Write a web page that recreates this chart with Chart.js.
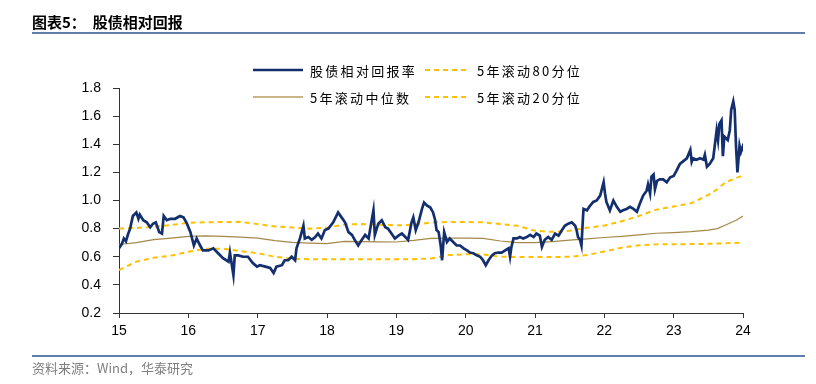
<!DOCTYPE html>
<html>
<head>
<meta charset="utf-8">
<script src="https://cdn.jsdelivr.net/npm/chart.js@4"></script>
<style>
body { margin: 0; width: 816px; height: 384px; background: #fff; position: relative; overflow: hidden; }
#chart { position: absolute; left: 0; top: 0; }
#title { position: absolute; left: 32px; top: 11px; font: bold 15px "Noto Sans CJK SC", sans-serif; color: #000; white-space: pre; }
.rule { position: absolute; left: 32px; width: 773px; height: 2px; background: #5f7fa8; }
#source { position: absolute; left: 32px; top: 358px; font: 13px "Noto Sans CJK SC", sans-serif; color: #7f7f7f; }
.lg { position: absolute; display: flex; align-items: center; height: 20px; font: 13px "Noto Sans CJK SC", sans-serif; letter-spacing: 2.3px; color: #000; }
.lg svg { margin-right: 7px; }
</style>
</head>
<body>
<canvas id="chart" width="816" height="384"></canvas>
<div id="title">图表5：  股债相对回报</div>
<div class="rule" style="top:32px"></div>
<div class="rule" style="top:355px"></div>
<div id="source">资料来源：Wind，华泰研究</div>
<div id="legend"></div>
<script>
// 股债相对回报率 (year = 15 + fraction)
const retDates = [
  15.00, 15.04, 15.07, 15.10, 15.13, 15.16, 15.20, 15.25, 15.28, 15.30, 15.35, 15.40, 15.45, 15.49, 15.53, 15.58, 15.62, 15.645, 15.69, 15.74, 15.81, 15.88, 15.93, 15.98,
  16.03, 16.08, 16.12, 16.17, 16.21, 16.29, 16.36, 16.43, 16.50, 16.58, 16.60, 16.65, 16.67, 16.72, 16.79, 16.86, 16.93, 16.99,
  17.03, 17.11, 17.18, 17.23, 17.27, 17.35, 17.39, 17.44, 17.49, 17.54, 17.56, 17.61, 17.66, 17.68, 17.73, 17.78, 17.83, 17.87, 17.92, 17.97,
  18.02, 18.09, 18.16, 18.21, 18.26, 18.31, 18.36, 18.40, 18.45, 18.50, 18.55, 18.60, 18.64, 18.67, 18.69, 18.74, 18.79, 18.84, 18.88, 18.93, 18.98,
  19.03, 19.08, 19.13, 19.17, 19.22, 19.245, 19.28, 19.32, 19.37, 19.40, 19.44, 19.49, 19.53, 19.56, 19.58, 19.61, 19.64, 19.66, 19.69, 19.73, 19.77, 19.82, 19.87, 19.92, 19.97,
  20.02, 20.06, 20.11, 20.16, 20.21, 20.25, 20.29, 20.33, 20.38, 20.42, 20.47, 20.52, 20.57, 20.62, 20.64, 20.66, 20.69, 20.74, 20.78, 20.83, 20.88, 20.93, 20.98,
  21.02, 21.07, 21.10, 21.14, 21.19, 21.24, 21.29, 21.34, 21.39, 21.43, 21.48, 21.53, 21.58, 21.60, 21.62, 21.65, 21.67, 21.69, 21.70, 21.75, 21.79, 21.84, 21.89, 21.94, 21.99,
  22.01, 22.03, 22.08, 22.13, 22.18, 22.23, 22.27, 22.32, 22.37, 22.42, 22.47, 22.51, 22.56, 22.61, 22.63, 22.66, 22.68, 22.71, 22.73, 22.76, 22.80, 22.85, 22.90, 22.95,
  23.00, 23.04, 23.09, 23.14, 23.19, 23.24, 23.26, 23.28, 23.33, 23.38, 23.43, 23.45, 23.48, 23.52, 23.57, 23.59, 23.62, 23.64, 23.66, 23.69, 23.71, 23.73, 23.78, 23.81, 23.83, 23.86, 23.88, 23.90, 23.92, 23.95, 23.97, 23.99, 24.00
];
const retValues = [
  0.66, 0.69, 0.73, 0.71, 0.76, 0.80, 0.89, 0.915, 0.87, 0.90, 0.86, 0.845, 0.81, 0.835, 0.845, 0.775, 0.765, 0.89, 0.86, 0.87, 0.87, 0.89, 0.88, 0.835,
  0.775, 0.68, 0.73, 0.68, 0.645, 0.645, 0.66, 0.625, 0.59, 0.565, 0.63, 0.47, 0.61, 0.61, 0.60, 0.60, 0.555, 0.53,
  0.54, 0.53, 0.52, 0.485, 0.53, 0.54, 0.575, 0.575, 0.60, 0.575, 0.66, 0.73, 0.82, 0.73, 0.74, 0.72, 0.74, 0.765, 0.73, 0.79,
  0.80, 0.845, 0.915, 0.88, 0.845, 0.775, 0.755, 0.72, 0.68, 0.72, 0.755, 0.73, 0.845, 0.93, 0.755, 0.835, 0.86, 0.81, 0.80, 0.765, 0.73,
  0.75, 0.765, 0.74, 0.72, 0.845, 0.88, 0.79, 0.845, 0.94, 0.985, 0.965, 0.95, 0.915, 0.86, 0.79, 0.775, 0.68, 0.575, 0.775, 0.705, 0.73, 0.705, 0.68, 0.68, 0.66,
  0.645, 0.63, 0.625, 0.61, 0.60, 0.575, 0.54, 0.575, 0.61, 0.625, 0.63, 0.63, 0.645, 0.66, 0.60, 0.67, 0.73, 0.73, 0.74, 0.73, 0.74, 0.755, 0.74,
  0.765, 0.75, 0.67, 0.72, 0.74, 0.72, 0.765, 0.75, 0.79, 0.82, 0.835, 0.845, 0.82, 0.79, 0.74, 0.72, 0.68, 0.86, 0.94, 0.93, 0.96, 0.99, 1.00, 1.035, 1.13,
  1.05, 0.99, 0.93, 1.00, 0.955, 0.92, 0.93, 0.94, 0.955, 0.94, 0.92, 0.975, 1.035, 1.07, 1.115, 1.05, 1.17, 1.185, 1.08, 1.14, 1.15, 1.15, 1.13, 1.165,
  1.175, 1.21, 1.26, 1.28, 1.30, 1.36, 1.275, 1.30, 1.29, 1.30, 1.29, 1.325, 1.24, 1.26, 1.30, 1.38, 1.50, 1.43, 1.545, 1.57, 1.315, 1.455, 1.43, 1.50, 1.645, 1.705, 1.645, 1.38, 1.20, 1.39, 1.345, 1.375, 1.35
];

// rolling 5y bands
const bandDates = [15.00, 15.25, 15.50, 15.75, 16.00, 16.25, 16.50, 16.75, 17.00, 17.25, 17.50, 17.75, 18.00, 18.25, 18.50, 18.75, 19.00, 19.25, 19.50, 19.75,
  20.00, 20.25, 20.50, 20.75, 21.00, 21.25, 21.50, 21.75, 22.00, 22.25, 22.50, 22.75, 23.00, 23.25, 23.50, 23.63, 23.75, 23.90, 24.00];
const p80Values = [0.80, 0.805, 0.812, 0.825, 0.842, 0.845, 0.847, 0.848, 0.832, 0.815, 0.808, 0.80, 0.806, 0.83, 0.832, 0.828, 0.823, 0.828, 0.843, 0.847,
  0.847, 0.845, 0.833, 0.82, 0.785, 0.777, 0.785, 0.806, 0.822, 0.852, 0.89, 0.935, 0.958, 0.98, 1.04, 1.08, 1.13, 1.16, 1.178];
const p50Values = [0.687, 0.70, 0.722, 0.733, 0.745, 0.748, 0.745, 0.74, 0.732, 0.715, 0.702, 0.697, 0.694, 0.71, 0.708, 0.706, 0.705, 0.716, 0.73, 0.732,
  0.733, 0.73, 0.712, 0.70, 0.70, 0.707, 0.718, 0.727, 0.737, 0.745, 0.755, 0.767, 0.772, 0.778, 0.79, 0.80, 0.826, 0.86, 0.89];
const p20Values = [0.505, 0.565, 0.593, 0.608, 0.635, 0.656, 0.657, 0.64, 0.625, 0.60, 0.585, 0.583, 0.583, 0.583, 0.583, 0.583, 0.583, 0.583, 0.588, 0.612,
  0.617, 0.617, 0.60, 0.598, 0.598, 0.598, 0.60, 0.612, 0.638, 0.664, 0.682, 0.688, 0.689, 0.69, 0.692, 0.694, 0.696, 0.698, 0.70];

const yTicks = [0.2, 0.4, 0.6, 0.8, 1.0, 1.2, 1.4, 1.6, 1.8];
const xTicks = [15, 16, 17, 18, 19, 20, 21, 22, 23, 24];

function pts(xs, ys) {
    return xs.map((x, i) => ({ x: x, y: ys[i] }));
}

const tickFont = { family: "'Liberation Sans', Arial, sans-serif", size: 14 };

const chart = new Chart(document.getElementById("chart"), {
    type: 'line',
    data: {
        datasets: [
            { label: "股债相对回报率", data: pts(retDates, retValues), borderColor: '#142f6e', borderWidth: 2.7 },
            { label: "5年滚动80分位", data: pts(bandDates, p80Values), borderColor: '#ffc000', borderWidth: 2, borderDash: [5, 4] },
            { label: "5年滚动中位数", data: pts(bandDates, p50Values), borderColor: '#a4884a', borderWidth: 1.2 },
            { label: "5年滚动20分位", data: pts(bandDates, p20Values), borderColor: '#ffc000', borderWidth: 2, borderDash: [5, 4] }
        ]
    },
    options: {
        responsive: false,
        devicePixelRatio: 1,
        animation: false,
        elements: { point: { radius: 0 }, line: { tension: 0 } },
        layout: { padding: { left: 79, right: 73, top: 88, bottom: 41 } },
        plugins: { legend: { display: false }, tooltip: { enabled: false } },
        scales: {
            x: {
                type: 'linear',
                min: 15,
                max: 24,
                afterFit: (s) => { s.height = 30; },
                afterBuildTicks: (s) => { s.ticks = xTicks.map(v => ({ value: v })); },
                ticks: { color: '#000', font: tickFont, padding: 5, maxRotation: 0, callback: (v) => String(v) },
                grid: { drawOnChartArea: false, drawTicks: true, tickLength: 5, color: '#333' },
                border: { color: '#333', width: 1 }
            },
            y: {
                min: 0.2,
                max: 1.8,
                afterFit: (s) => { s.width = 40; },
                afterBuildTicks: (s) => { s.ticks = yTicks.map(v => ({ value: v })); },
                ticks: { color: '#000', font: tickFont, padding: 12, callback: (v) => v.toFixed(1) },
                grid: { drawOnChartArea: false, drawTicks: true, tickLength: 6, color: '#333' },
                border: { color: '#333', width: 1 }
            }
        }
    }
});

// legend, two rows by two columns
const legendSlots = [
    { left: 253, top: 60, w: 50 },
    { left: 425, top: 60, w: 45 },
    { left: 253, top: 87, w: 50 },
    { left: 425, top: 87, w: 45 }
];
const legendBox = document.getElementById("legend");
chart.data.datasets.forEach((ds, i) => {
    const slot = legendSlots[i];
    const item = document.createElement("div");
    item.className = "lg";
    item.style.left = slot.left + "px";
    item.style.top = slot.top + "px";
    const dash = ds.borderDash ? ds.borderDash.join(",") : "none";
    const sw = ds.borderDash ? 2 : (i === 0 ? 2.5 : 2);
    const col = i === 2 ? '#c8b68a' : ds.borderColor;
    item.innerHTML = '<svg width="' + slot.w + '" height="6"><line x1="0" y1="3" x2="' + slot.w + '" y2="3" stroke="' + col +
        '" stroke-width="' + sw + '" stroke-dasharray="' + dash + '"/></svg><span>' + ds.label + '</span>';
    legendBox.appendChild(item);
});
</script>
</body>
</html>
